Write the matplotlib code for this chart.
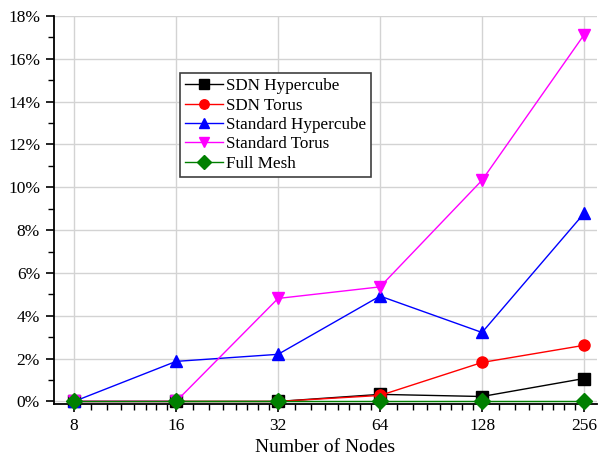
import matplotlib
matplotlib.use("Agg")
import matplotlib.pyplot as plt
from matplotlib.ticker import FixedLocator, NullFormatter, PercentFormatter, MultipleLocator

nodes = [8, 16, 32, 64, 128, 256]
sdn_hypercube = [0.0, 0.0, 0.0, 0.33, 0.23, 1.07]
sdn_torus = [0.0, 0.0, 0.0, 0.28, 1.82, 2.62]
std_hypercube = [0.0, 1.87, 2.2, 4.92, 3.22, 8.78]
std_torus = [0.0, 0.0, 4.81, 5.35, 10.33, 17.12]
full_mesh = [0.0, 0.0, 0.0, 0.0, 0.0, 0.0]

plt.rcParams['font.family'] = ['Liberation Serif', 'DejaVu Serif']


def main():
    fig = plt.figure(figsize=(6.03, 4.59), dpi=100)
    ax = fig.add_axes([54 / 603, 1 - 404 / 459, 543 / 603, 388 / 459])

    series = [
        ("SDN Hypercube", sdn_hypercube, "black", "s"),
        ("SDN Torus", sdn_torus, "red", "o"),
        ("Standard Hypercube", std_hypercube, "blue", "^"),
        ("Standard Torus", std_torus, "magenta", "v"),
        ("Full Mesh", full_mesh, "green", "D"),
    ]
    for name, vals, col, mk in series:
        ax.plot(nodes, vals, color=col, marker=mk, markersize=8, lw=1,
                label=name, clip_on=False, zorder=3)

    ax.set_xscale('log', base=2)
    ax.set_xlim(6.98, 279.6)
    ax.set_ylim(-0.12, 18)
    ax.xaxis.set_major_locator(FixedLocator(nodes))
    ax.set_xticklabels([str(n) for n in nodes])
    minors = []
    for n in nodes[:-1]:
        step = n / 8
        minors += [n + step * k for k in range(1, 8)]
    ax.xaxis.set_minor_locator(FixedLocator(minors))
    ax.xaxis.set_minor_formatter(NullFormatter())
    ax.yaxis.set_major_locator(MultipleLocator(2))
    ax.yaxis.set_minor_locator(MultipleLocator(1))
    ax.yaxis.set_major_formatter(PercentFormatter(xmax=100, decimals=0))

    ax.grid(True, which='major', color='#d3d3d3', lw=1, zorder=0)
    ax.set_axisbelow(True)
    for s in ['top', 'right']:
        ax.spines[s].set_visible(False)
    ax.spines['left'].set_linewidth(1.3)
    ax.spines['bottom'].set_linewidth(1.3)
    ax.tick_params(which='major', direction='out', length=6, width=1.2, labelsize=12.5, pad=4)
    ax.tick_params(which='minor', direction='out', length=4, width=1)

    ax.set_xlabel("Number of Nodes", fontsize=14, labelpad=4)

    leg = ax.legend(loc='upper left', bbox_to_anchor=(0.232, 0.853), borderaxespad=0,
                    fontsize=12.3, fancybox=False, edgecolor='#404040', framealpha=1,
                    handlelength=2.2, handletextpad=0.2, labelspacing=0.2,
                    borderpad=0.3, markerscale=0.85)
    leg.get_frame().set_linewidth(1.2)

    fig.savefig("out.png", dpi=100)


if __name__ == "__main__":
    main()
